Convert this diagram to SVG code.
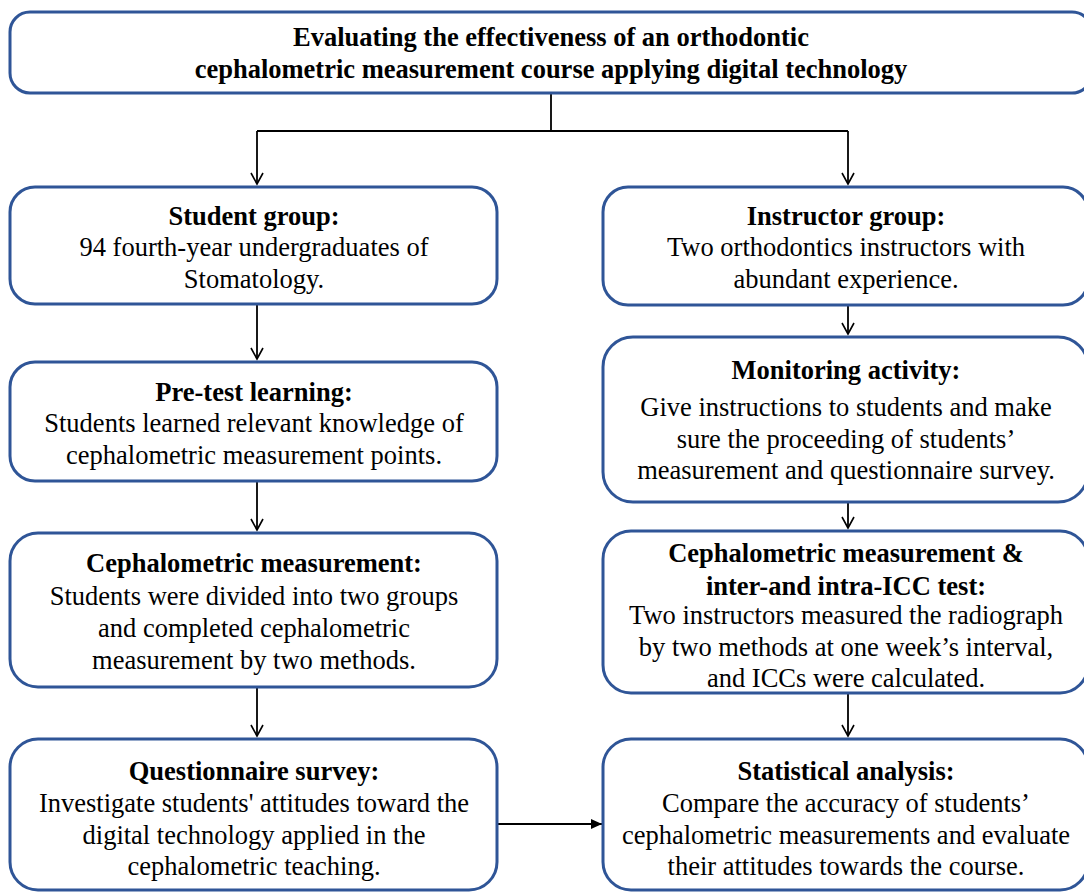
<svg xmlns="http://www.w3.org/2000/svg" width="1084" height="892" viewBox="0 0 1084 892">
<defs>
<marker id="open" markerWidth="14" markerHeight="14" refX="12" refY="7" orient="auto" markerUnits="userSpaceOnUse" viewBox="0 0 14 14">
<path d="M1,1 L12,7 L1,13" fill="none" stroke="#000" stroke-width="1.6"/>
</marker>
<marker id="solid" markerWidth="12" markerHeight="12" refX="11" refY="6" orient="auto" markerUnits="userSpaceOnUse" viewBox="0 0 12 12">
<path d="M0,1 L11,6 L0,11 Z" fill="#000"/>
</marker>
<style>
.box{fill:#fff;stroke:#2f5597;stroke-width:3}
.t{font-family:"Liberation Serif","Times New Roman",serif;font-size:26.5px;fill:#000;text-anchor:middle}
.b{font-weight:bold}
.c{fill:none;stroke:#000;stroke-width:1.8}
</style>
</defs>
<rect width="1084" height="892" fill="#fff"/>
<g id="connectors">
<path class="c" d="M551,93 V131 M257,131 H848"/>
<path class="c" d="M257,131 V184" marker-end="url(#open)"/>
<path class="c" d="M848,131 V184" marker-end="url(#open)"/>
<path class="c" d="M257,305 V359" marker-end="url(#open)"/>
<path class="c" d="M848,306 V334" marker-end="url(#open)"/>
<path class="c" d="M257,482 V530" marker-end="url(#open)"/>
<path class="c" d="M848,503 V528" marker-end="url(#open)"/>
<path class="c" d="M257,688 V736" marker-end="url(#open)"/>
<path class="c" d="M848,694 V736" marker-end="url(#open)"/>
<path class="c" d="M498,824 H602" marker-end="url(#solid)"/>
</g>
<g id="title">
<rect class="box" x="10" y="12" width="1082" height="81" rx="20"/>
<text class="t b" x="551" y="46">Evaluating the effectiveness of an orthodontic</text>
<text class="t b" x="551" y="78">cephalometric measurement course applying digital technology</text>
</g>
<g id="student-group">
<rect class="box" x="10" y="187" width="487" height="117" rx="25"/>
<text class="t b" x="254" y="225">Student group:</text>
<text class="t" x="254" y="256">94 fourth-year undergraduates of</text>
<text class="t" x="254" y="288">Stomatology.</text>
</g>
<g id="instructor-group">
<rect class="box" x="603" y="187" width="485" height="118" rx="25"/>
<text class="t b" x="846" y="225">Instructor group:</text>
<text class="t" x="846" y="256">Two orthodontics instructors with</text>
<text class="t" x="846" y="288">abundant experience.</text>
</g>
<g id="pre-test">
<rect class="box" x="10" y="362" width="487" height="119" rx="25"/>
<text class="t b" x="254" y="401">Pre-test learning:</text>
<text class="t" x="254" y="432">Students learned relevant knowledge of</text>
<text class="t" x="254" y="464">cephalometric measurement points.</text>
</g>
<g id="monitoring">
<rect class="box" x="603" y="337" width="485" height="165" rx="30"/>
<text class="t b" x="846" y="379">Monitoring activity:</text>
<text class="t" x="846" y="416">Give instructions to students and make</text>
<text class="t" x="846" y="448">sure the proceeding of students’</text>
<text class="t" x="846" y="479">measurement and questionnaire survey.</text>
</g>
<g id="ceph-students">
<rect class="box" x="10" y="533" width="487" height="154" rx="28"/>
<text class="t b" x="254" y="572">Cephalometric measurement:</text>
<text class="t" x="254" y="605">Students were divided into two groups</text>
<text class="t" x="254" y="637">and completed cephalometric</text>
<text class="t" x="254" y="669">measurement by two methods.</text>
</g>
<g id="ceph-instructors">
<rect class="box" x="603" y="531" width="485" height="162" rx="28"/>
<text class="t b" x="846" y="562">Cephalometric measurement &amp;</text>
<text class="t b" x="846" y="595">inter-and intra-ICC test:</text>
<text class="t" x="846" y="624">Two instructors measured the radiograph</text>
<text class="t" x="846" y="656">by two methods at one week’s interval,</text>
<text class="t" x="846" y="687">and ICCs were calculated.</text>
</g>
<g id="questionnaire">
<rect class="box" x="10" y="739" width="487" height="151" rx="28"/>
<text class="t b" x="254" y="780">Questionnaire survey:</text>
<text class="t" x="254" y="812">Investigate students' attitudes toward the</text>
<text class="t" x="254" y="844">digital technology applied in the</text>
<text class="t" x="254" y="875">cephalometric teaching.</text>
</g>
<g id="statistical">
<rect class="box" x="603" y="739" width="485" height="151" rx="28"/>
<text class="t b" x="846" y="780">Statistical analysis:</text>
<text class="t" x="846" y="812">Compare the accuracy of students’</text>
<text class="t" x="846" y="844">cephalometric measurements and evaluate</text>
<text class="t" x="846" y="875">their attitudes towards the course.</text>
</g>
</svg>
